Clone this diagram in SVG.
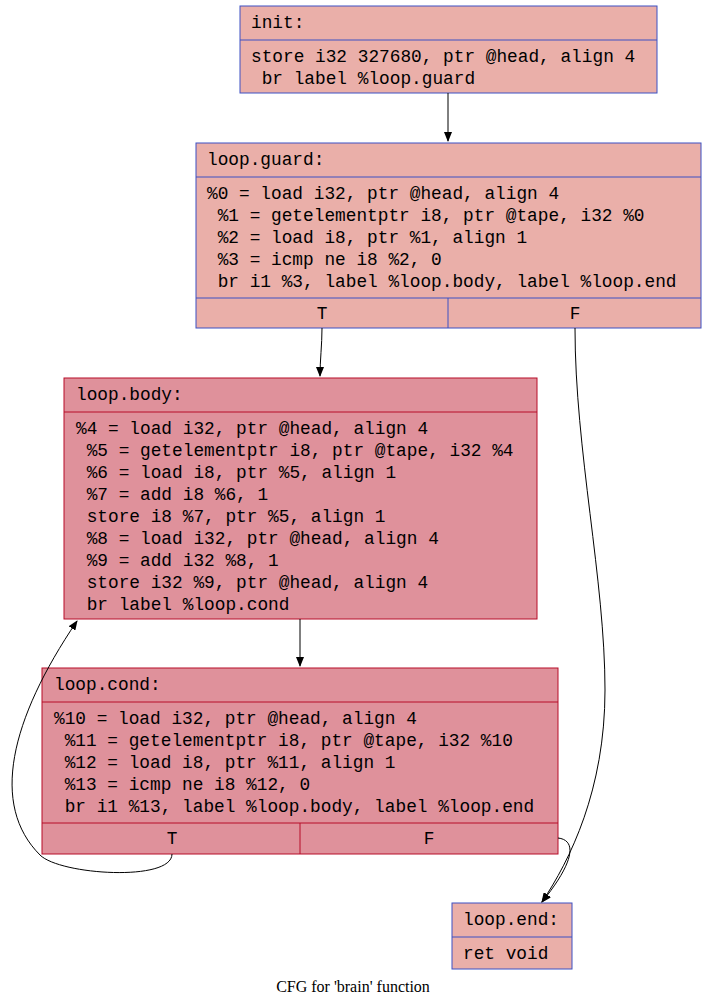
<svg xmlns="http://www.w3.org/2000/svg" width="707" height="1008" viewBox="0 0 707 1008">
<style>
.t{font-family:"Liberation Mono",monospace;font-size:17.8px;fill:#000;white-space:pre}
.c{text-anchor:middle}
.a{fill:#eaafa9;stroke:#3d50c3;stroke-width:1}
.b{fill:#df919b;stroke:#b70d28;stroke-width:1}
.e{fill:none;stroke:#000;stroke-width:1}
</style>
<defs><marker id="ar" markerWidth="10" markerHeight="8" refX="9" refY="4" orient="auto" markerUnits="userSpaceOnUse"><path d="M0,0L10,4L0,8z" fill="#000"/></marker></defs>
<rect width="707" height="1008" fill="#fff"/>
<g id="init"><rect class="a" x="240" y="6" width="417" height="87"/><line class="a" x1="240" y1="40" x2="657" y2="40"/>
<text class="t" x="251" y="28">init:</text>
<text class="t" x="251" y="62">store i32 327680, ptr @head, align 4</text>
<text class="t" x="251" y="84"> br label %loop.guard</text></g>
<g id="loop.guard"><rect class="a" x="196" y="143" width="505" height="185"/><line class="a" x1="196" y1="177" x2="701" y2="177"/><line class="a" x1="196" y1="298" x2="701" y2="298"/><line class="a" x1="448" y1="298" x2="448" y2="328"/>
<text class="t" x="207" y="165">loop.guard:</text>
<text class="t" x="207" y="199">%0 = load i32, ptr @head, align 4</text>
<text class="t" x="207" y="221"> %1 = getelementptr i8, ptr @tape, i32 %0</text>
<text class="t" x="207" y="243"> %2 = load i8, ptr %1, align 1</text>
<text class="t" x="207" y="265"> %3 = icmp ne i8 %2, 0</text>
<text class="t" x="207" y="287"> br i1 %3, label %loop.body, label %loop.end</text>
<text class="t c" x="322" y="319">T</text><text class="t c" x="575" y="319">F</text></g>
<g id="loop.body"><rect class="b" x="64" y="378" width="473" height="241"/><line class="b" x1="64" y1="412" x2="537" y2="412"/>
<text class="t" x="76" y="400">loop.body:</text>
<text class="t" x="76" y="434">%4 = load i32, ptr @head, align 4</text>
<text class="t" x="76" y="456"> %5 = getelementptr i8, ptr @tape, i32 %4</text>
<text class="t" x="76" y="478"> %6 = load i8, ptr %5, align 1</text>
<text class="t" x="76" y="500"> %7 = add i8 %6, 1</text>
<text class="t" x="76" y="522"> store i8 %7, ptr %5, align 1</text>
<text class="t" x="76" y="544"> %8 = load i32, ptr @head, align 4</text>
<text class="t" x="76" y="566"> %9 = add i32 %8, 1</text>
<text class="t" x="76" y="588"> store i32 %9, ptr @head, align 4</text>
<text class="t" x="76" y="610"> br label %loop.cond</text></g>
<g id="loop.cond"><rect class="b" x="42" y="668" width="516" height="186"/><line class="b" x1="42" y1="702" x2="558" y2="702"/><line class="b" x1="42" y1="823" x2="558" y2="823"/><line class="b" x1="300" y1="823" x2="300" y2="854"/>
<text class="t" x="54" y="690">loop.cond:</text>
<text class="t" x="54" y="724">%10 = load i32, ptr @head, align 4</text>
<text class="t" x="54" y="746"> %11 = getelementptr i8, ptr @tape, i32 %10</text>
<text class="t" x="54" y="768"> %12 = load i8, ptr %11, align 1</text>
<text class="t" x="54" y="790"> %13 = icmp ne i8 %12, 0</text>
<text class="t" x="54" y="812"> br i1 %13, label %loop.body, label %loop.end</text>
<text class="t c" x="172" y="844">T</text><text class="t c" x="429" y="844">F</text></g>
<g id="loop.end"><rect class="a" x="452" y="903" width="120" height="66"/><line class="a" x1="452" y1="937" x2="572" y2="937"/>
<text class="t" x="463" y="925">loop.end:</text>
<text class="t" x="463" y="959">ret void</text></g>
<g id="edges">
<path class="e" marker-end="url(#ar)" d="M448,93 L448,141"/>
<path class="e" marker-end="url(#ar)" d="M322,328 C322,345 320,360 320,376"/>
<path class="e" marker-end="url(#ar)" d="M575,328 C575,450 605,580 605,690 C605,790 570,860 542,902"/>
<path class="e" marker-end="url(#ar)" d="M300,619 L300,666"/>
<path class="e" marker-end="url(#ar)" d="M172,854 C172,882 60,875 40,855 C-10,805 10,720 77,621"/>
<path class="e" marker-end="url(#ar)" d="M558,838 C576,840 576,860 542,902"/>
</g>
<text x="353" y="992" text-anchor="middle" style="font-family:'Liberation Serif',serif;font-size:16px">CFG for 'brain' function</text>
</svg>
